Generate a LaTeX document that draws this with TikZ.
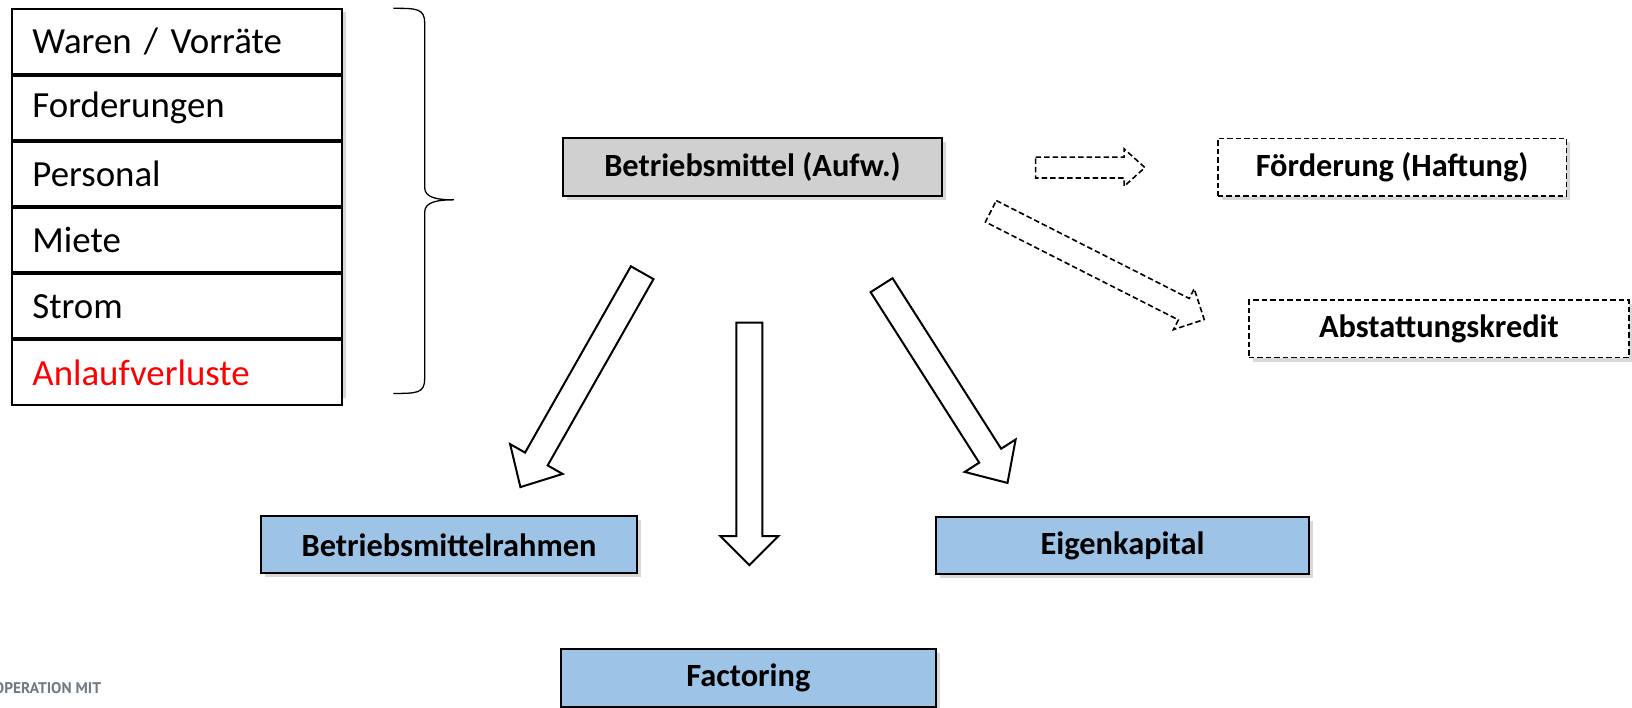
\documentclass[tikz,border=0pt]{standalone}
\usepackage{fontspec}
\setmainfont{Carlito}
\newfontfamily\logofont{PT Sans}
\usetikzlibrary{calc,shadows}
\definecolor{boxblue}{HTML}{9DC3E6}
\definecolor{boxgray}{HTML}{D0D0D0}
\definecolor{logogray}{HTML}{6E7C82}
\def\sc{1.0408}
\tikzset{
  myshadow/.style={drop shadow={shadow xshift=4bp,shadow yshift=-4bp,opacity=.25,fill=black!60}},
  listrow/.style={draw=black,line width=2bp,fill=white,minimum width={\sc*317bp},minimum height={\sc*61.7bp},
     anchor=north west,inner xsep=20bp,text width={\sc*317bp-40bp},align=left,font=\fontsize{37}{44}\selectfont},
  mainbox/.style={draw=black,line width=2bp,minimum height={\sc*55bp},font=\bfseries\fontsize{32.5}{38}\selectfont,myshadow},
  dashbox/.style={draw=black,line width=1.7bp,dash pattern=on 5.5bp off 3bp,fill=white,minimum height={\sc*55bp},
     font=\bfseries\fontsize{32.5}{38}\selectfont,myshadow},
  blockarrowstyle/.style={draw=black,line width=2bp,fill=white,line join=miter},
  dasharrowstyle/.style={draw=black,line width=1.6bp,dash pattern=on 5.5bp off 3bp,fill=white,line join=miter},
}
% #1 style, #2 start, #3 tip, #4 body half width, #5 head half width, #6 head length
\newcommand\blkarrow[6][blockarrowstyle]{%
  \coordinate (ba-b) at ($(#3)!#6!(#2)$);
  \draw[#1] ($(#2)!#4!90:(#3)$) -- ($(ba-b)!#4!90:(#3)$) -- ($(ba-b)!#5!90:(#3)$) -- (#3)
    -- ($(ba-b)!#5!-90:(#3)$) -- ($(ba-b)!#4!-90:(#3)$) -- ($(#2)!#4!-90:(#3)$) -- cycle;}
\begin{document}
\begin{tikzpicture}[x=1.0408bp,y=-1.0408bp]
\useasboundingbox[fill=white] (0,0) rectangle (1568,679.3);
% list
\fill[black!60,opacity=.25] (15,12) rectangle (332,382);
\node[listrow] (r1) at (11,8) {Waren / Vorräte};
\node[listrow] (r2) at (r1.south west) {Forderungen};
\node[listrow] (r3) at (r2.south west) {Personal};
\node[listrow] (r4) at (r3.south west) {Miete};
\node[listrow] (r5) at (r4.south west) {Strom};
\node[listrow,text=red] (r6) at (r5.south west) {Anlaufverluste};
% brace
\draw[line width=1.3bp] (378,8) .. controls (400,8) and (408,8) .. (408,22) -- (408,180)
  .. controls (408,190) and (420,192) .. (436,192)
  .. controls (420,192) and (408,194) .. (408,204) -- (408,364)
  .. controls (408,378) and (400,378) .. (378,378);
% boxes
\node[mainbox,fill=boxgray,minimum width={\sc*364bp}] (bm) at (723,160.5) {Betriebsmittel (Aufw.)};
\node[dashbox,minimum width={\sc*335bp}] (foe) at (1337.5,160.5) {Förderung (Haftung)};
\node[dashbox,minimum width={\sc*365bp}] (ak) at (1382.5,316) {Abstattungskredit};
\node[mainbox,fill=boxblue,minimum width={\sc*361bp}] (bmr) at (431.5,523.5) {Betriebsmittelrahmen};
\node[mainbox,fill=boxblue,minimum width={\sc*359bp}] (ek) at (1078.5,524) {Eigenkapital};
\node[mainbox,fill=boxblue,minimum width={\sc*360bp}] (fac) at (719,651.5) {Factoring};
% arrows
\coordinate (a1s) at (617,262); \coordinate (a1t) at (500,468);
\coordinate (a2s) at (720,310); \coordinate (a2t) at (720,543);
\coordinate (a3s) at (847,274); \coordinate (a3t) at (968,464);
\coordinate (a4s) at (995,161); \coordinate (a4t) at (1100,161);
\coordinate (a5s) at (952,203); \coordinate (a5t) at (1157,307);
\blkarrow{a1s}{a1t}{13bp}{30.2bp}{32.3bp}
\blkarrow{a2s}{a2t}{13bp}{29.1bp}{29.1bp}
\blkarrow{a3s}{a3t}{13bp}{30.2bp}{32.3bp}
\blkarrow[dasharrowstyle]{a4s}{a4t}{10.4bp}{18.7bp}{20.8bp}
\blkarrow[dasharrowstyle]{a5s}{a5t}{12bp}{22.9bp}{22.9bp}
% logo fragment
\node[anchor=west,inner sep=0pt,text=logogray,font=\logofont\bfseries\fontsize{15.5}{18}\selectfont] (logo) at (-6,661) {OPERATION MIT};
\end{tikzpicture}
\end{document}
